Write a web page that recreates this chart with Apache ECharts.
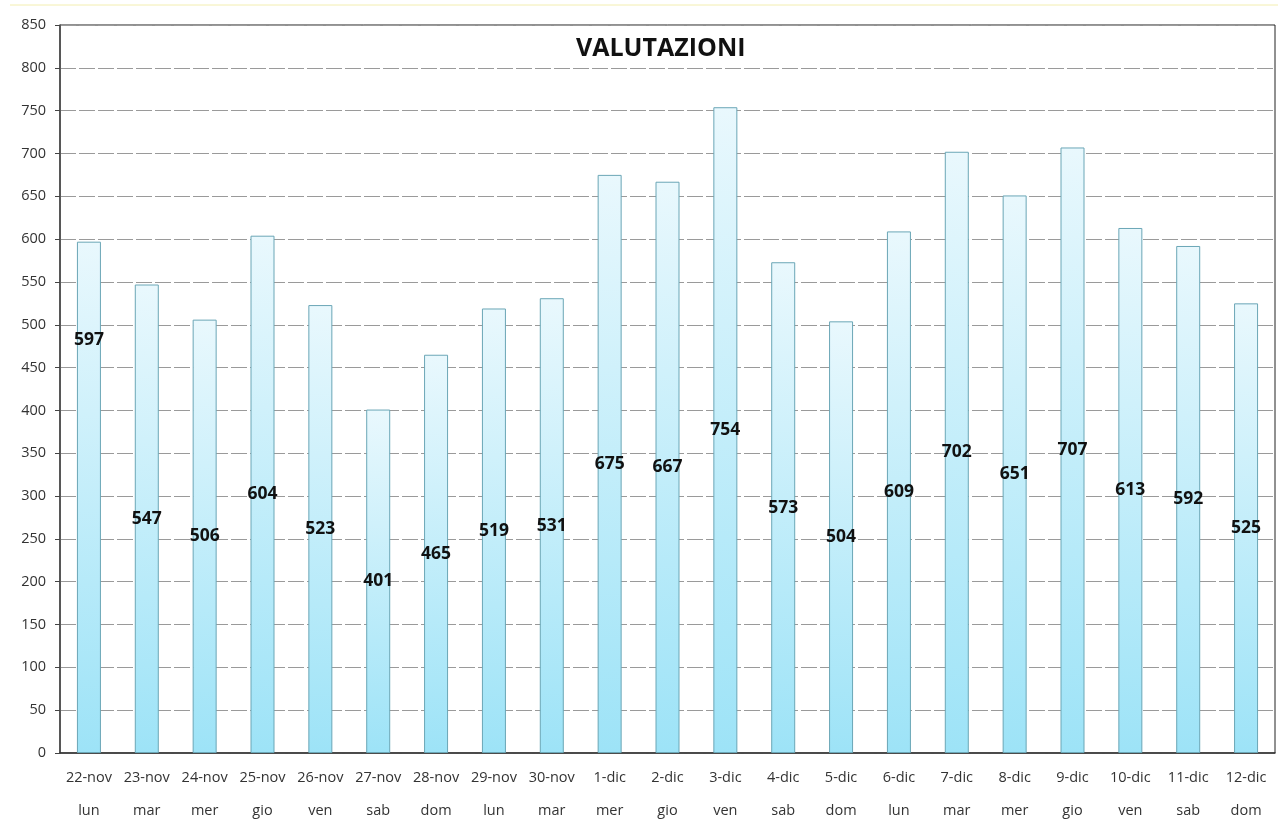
<!DOCTYPE html>
<html>
<head>
<meta charset="utf-8">
<script src="https://cdn.jsdelivr.net/npm/echarts@6/dist/echarts.min.js"></script>
<style>
html,body{margin:0;padding:0;background:#fff;}
#c{width:1278px;height:838px;}
</style>
</head>
<body>
<div id="c"></div>
<script>
var dates = ['22-nov','23-nov','24-nov','25-nov','26-nov','27-nov','28-nov','29-nov','30-nov','1-dic','2-dic','3-dic','4-dic','5-dic','6-dic','7-dic','8-dic','9-dic','10-dic','11-dic','12-dic'];
var days = ['lun','mar','mer','gio','ven','sab','dom','lun','mar','mer','gio','ven','sab','dom','lun','mar','mer','gio','ven','sab','dom'];
var values = [597,547,506,604,523,401,465,519,531,675,667,754,573,504,609,702,651,707,613,592,525];
var chartTitle = 'VALUTAZIONI';

var cats = dates.map(function(d,i){ return d + '\n' + days[i]; });
var chart = echarts.init(document.getElementById('c'));
var barData = values.map(function(v,i){
  var item = {value: v};
  if (i === 0) item.label = {offset:[0,-157]};
  return item;
});
chart.setOption({
  animation:false,
  backgroundColor:'#fff',
  title:{text:chartTitle,left:571,top:31,textStyle:{fontFamily:'Open Sans',fontWeight:'bold',fontSize:25,color:'#111'}},
  grid:{left:60,right:3,top:25,bottom:85,show:true,borderColor:'#222',borderWidth:1},
  graphic:[{type:'line',shape:{x1:10,y1:5,x2:1278,y2:5},style:{stroke:'#f3eeb0',lineWidth:1}}],
  xAxis:{type:'category',data:cats,
    axisLine:{lineStyle:{color:'#333',width:1.5}},
    axisTick:{show:false},
    axisLabel:{color:'#333',fontFamily:'Open Sans',fontSize:14.5,lineHeight:33,margin:8,interval:0}},
  yAxis:{type:'value',min:0,max:850,interval:50,
    axisLine:{show:true,lineStyle:{color:'#444',width:1.5}},
    axisTick:{show:true,length:5,lineStyle:{color:'#444'}},
    axisLabel:{color:'#333',fontFamily:'Open Sans',fontSize:14.5,margin:14},
    splitLine:{lineStyle:{color:'#9a9a9a',type:[16,3],width:1}}},
  series:[{type:'bar',data:barData,barWidth:24,
    itemStyle:{borderColor:'#6aa6b6',borderWidth:1,
      color:new echarts.graphic.LinearGradient(0,0,0,1,[{offset:0,color:'#e9f8fd'},{offset:1,color:'#9de3f7'}],false)},
    label:{show:true,position:'inside',color:'#111',fontFamily:'Open Sans',fontWeight:'bold',fontSize:17.5}
  }]
});
</script>
</body>
</html>
